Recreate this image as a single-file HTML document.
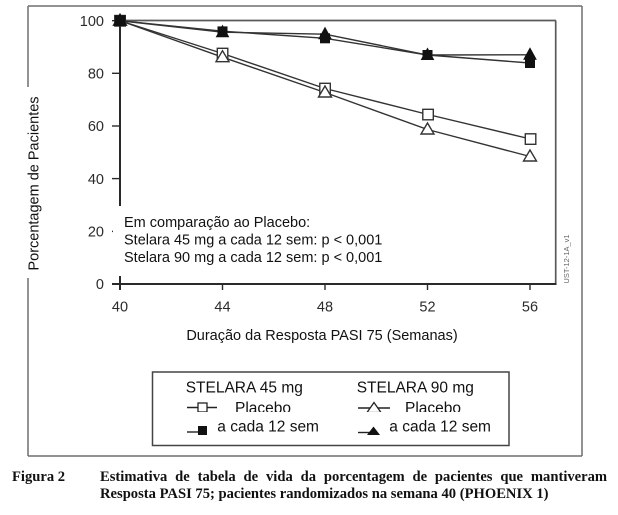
<!DOCTYPE html>
<html>
<head>
<meta charset="utf-8">
<style>
  html,body{margin:0;padding:0;background:#fff;}
  svg{display:block;}
  .sans{font-family:"Liberation Sans",Arial,sans-serif;}
  .serif{font-family:"Liberation Serif","Times New Roman",serif;}
</style>
</head>
<body>
<svg width="618" height="515" viewBox="0 0 618 515" xmlns="http://www.w3.org/2000/svg">
  <defs>
    <clipPath id="row1"><rect x="150" y="395" width="360" height="17"/></clipPath>
  </defs>
  <rect x="0" y="0" width="618" height="515" fill="#fff"/>

  <!-- outer frame -->
  <g stroke="#6e6e6e" stroke-width="1.5" fill="none">
    <line x1="28" y1="6" x2="582" y2="6"/>
    <line x1="582" y1="6" x2="582" y2="456"/>
    <line x1="28" y1="456" x2="582" y2="456"/>
    <line x1="28" y1="6" x2="28" y2="87"/>
    <line x1="28" y1="278" x2="28" y2="456"/>
  </g>

  <!-- plot box top/right -->
  <g stroke="#5a5a5a" stroke-width="1.7" fill="none">
    <line x1="120" y1="20.5" x2="556" y2="20.5"/>
    <line x1="555.7" y1="20.5" x2="555.7" y2="284"/>
  </g>

  <!-- axes -->
  <g stroke="#2a2a2a" stroke-width="2" fill="none">
    <line x1="120" y1="20" x2="120" y2="290"/>
    <line x1="112" y1="284" x2="556.5" y2="284"/>
  </g>
  <!-- y ticks -->
  <g stroke="#2a2a2a" stroke-width="1.4">
    <line x1="112" y1="20.7" x2="120" y2="20.7"/>
    <line x1="112" y1="73.3" x2="120" y2="73.3"/>
    <line x1="112" y1="126" x2="120" y2="126"/>
    <line x1="112" y1="178.6" x2="120" y2="178.6"/>
    <line x1="112" y1="231.4" x2="120" y2="231.4"/>
  </g>
  <!-- x ticks -->
  <g stroke="#2a2a2a" stroke-width="1.4">
    <line x1="222.5" y1="284" x2="222.5" y2="290"/>
    <line x1="325" y1="284" x2="325" y2="290"/>
    <line x1="427.5" y1="284" x2="427.5" y2="290"/>
    <line x1="530" y1="284" x2="530" y2="290"/>
  </g>

  <!-- tick labels -->
  <g class="sans" font-size="14.5" fill="#2b2b2b" text-anchor="end">
    <text x="104" y="26">100</text>
    <text x="104" y="78.5">80</text>
    <text x="104" y="131.2">60</text>
    <text x="104" y="183.8">40</text>
    <text x="104" y="236.6">20</text>
    <text x="104" y="289.2">0</text>
  </g>
  <g class="sans" font-size="14.5" fill="#2b2b2b" text-anchor="middle">
    <text x="120" y="311.7">40</text>
    <text x="222.5" y="311.7">44</text>
    <text x="325" y="311.7">48</text>
    <text x="427.5" y="311.7">52</text>
    <text x="530" y="311.7">56</text>
  </g>

  <!-- axis titles -->
  <text class="sans" font-size="14.5" fill="#111" text-anchor="middle" x="322" y="340">Duração da Resposta PASI 75 (Semanas)</text>
  <text class="sans" font-size="14.5" fill="#111" text-anchor="middle" transform="translate(38.7,183.5) rotate(-90)">Porcentagem de Pacientes</text>

  <!-- small id -->
  <text class="sans" font-size="7.5" fill="#666" text-anchor="middle" transform="translate(569,259) rotate(-90)">UST-12-1A_v1</text>

  <!-- series lines -->
  <g fill="none" stroke="#333" stroke-width="1.4" stroke-linejoin="round">
    <polyline points="120,20.7 222.5,53.5 325,88.5 428,114.5 530.5,139"/>
    <polyline points="120,20.7 222.5,57.2 325,92.5 427.5,129.5 530,156.5"/>
    <polyline points="120,20.7 222.5,31.2 325,38.3 427.5,55 530,63"/>
    <polyline points="120,20.7 222.5,32.2 325,34.2 427.5,55 530,54.8"/>
  </g>

  <!-- hollow squares -->
  <g fill="#fff" stroke="#333" stroke-width="1.4">
    <rect x="114.8" y="15.5" width="10.5" height="10.5"/>
    <rect x="217.3" y="48.3" width="10.5" height="10.5"/>
    <rect x="319.8" y="83.3" width="10.5" height="10.5"/>
    <rect x="422.8" y="109.3" width="10.5" height="10.5"/>
    <rect x="525.3" y="133.8" width="10.5" height="10.5"/>
  </g>
  <!-- hollow triangles -->
  <g fill="#fff" stroke="#333" stroke-width="1.4" stroke-linejoin="miter">
    <polygon points="120,14.2 113.5,25.2 126.5,25.2"/>
    <polygon points="222.5,50.7 216,61.7 229,61.7"/>
    <polygon points="325,86 318.5,97 331.5,97"/>
    <polygon points="427.5,123 421,134 434,134"/>
    <polygon points="530,150 523.5,161 536.5,161"/>
  </g>
  <!-- filled triangles -->
  <g fill="#111" stroke="#111" stroke-width="1">
    <polygon points="120,14.2 114,25.2 126,25.2"/>
    <polygon points="222.5,25.7 216.5,36.7 228.5,36.7"/>
    <polygon points="325,27.7 319,38.7 331,38.7"/>
    <polygon points="427.5,48.5 421.5,59.5 433.5,59.5"/>
    <polygon points="530,48.3 524,59.3 536,59.3"/>
  </g>
  <!-- filled squares -->
  <g fill="#111">
    <rect x="114.5" y="15.2" width="11" height="11"/>
    <rect x="217.5" y="26.4" width="10" height="10"/>
    <rect x="320" y="33.3" width="10" height="10"/>
    <rect x="422.5" y="50" width="10" height="10"/>
    <rect x="525" y="58" width="10" height="10"/>
  </g>

  <!-- annotation -->
  <rect x="113" y="206" width="280" height="70" fill="#fff"/>
  <g class="sans" font-size="14.5" fill="#111">
    <text x="124" y="226.8">Em comparação ao Placebo:</text>
    <text x="124" y="244.4">Stelara 45 mg a cada 12 sem: p &lt; 0,001</text>
    <text x="124" y="262.2">Stelara 90 mg a cada 12 sem: p &lt; 0,001</text>
  </g>

  <!-- legend -->
  <rect x="152.5" y="372" width="356.5" height="73.5" fill="#fff" stroke="#444" stroke-width="1.5"/>
  <g class="sans" font-size="15.5" fill="#111">
    <text x="185.7" y="392.7">STELARA 45 mg</text>
    <text x="356.7" y="392.7">STELARA 90 mg</text>
  </g>
  <g clip-path="url(#row1)">
    <g stroke="#222" stroke-width="1.4">
      <line x1="187" y1="407.5" x2="217" y2="407.5"/>
      <line x1="358" y1="408" x2="390" y2="408"/>
    </g>
    <rect x="198" y="403" width="9" height="9" fill="#fff" stroke="#222" stroke-width="1.3"/>
    <polygon points="374,402.5 367,412.5 381,412.5" fill="#fff" stroke="#222" stroke-width="1.3"/>
    <g class="sans" font-size="15.5" fill="#111">
      <text x="235" y="413">Placebo</text>
      <text x="405" y="413">Placebo</text>
    </g>
  </g>
  <g stroke="#222" stroke-width="1.4">
    <line x1="187" y1="432" x2="200" y2="432"/>
    <line x1="358" y1="432.5" x2="372" y2="432.5"/>
  </g>
  <rect x="198" y="426" width="9" height="9" fill="#111"/>
  <polygon points="373.5,426.5 367,435 380,435" fill="#111"/>
  <g class="sans" font-size="15.5" fill="#111">
    <text x="217.3" y="431.7">a cada 12 sem</text>
    <text x="389.3" y="431.7">a cada 12 sem</text>
  </g>

  <!-- caption -->
  <g class="serif" font-size="14.6" font-weight="bold" fill="#111">
    <text x="12" y="481">Figura 2</text>
    <text x="100" y="481" word-spacing="4.2">Estimativa de tabela de vida da porcentagem de pacientes que mantiveram</text>
    <text x="100" y="498">Resposta PASI 75; pacientes randomizados na semana 40 (PHOENIX 1)</text>
  </g>
</svg>
</body>
</html>
